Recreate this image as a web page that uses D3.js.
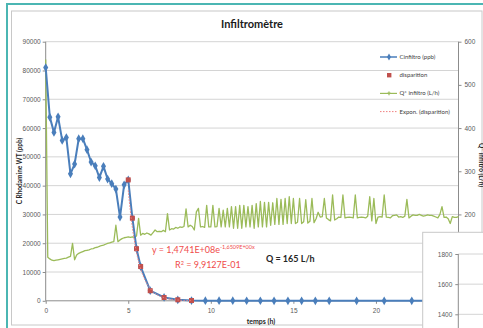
<!DOCTYPE html>
<html>
<head>
<meta charset="utf-8">
<script src="https://cdn.jsdelivr.net/npm/d3@7"></script>
<style>
  html, body { margin: 0; padding: 0; background: #fff; }
  svg { display: block; font-family: Lato, "Open Sans", sans-serif; }
  .tick text { fill: #595959; font-size: 6.5px; }
</style>
</head>
<body>
<div id="chart"></div>
<script>
// Cinfiltro (ppb) - time in hours
const cTimes = [0, 0.25, 0.5, 0.75, 1, 1.25, 1.5, 1.75, 2, 2.25, 2.5, 2.75, 3, 3.25, 3.5, 3.75, 4, 4.25, 4.5, 4.75,
  5, 5.25, 5.5, 5.75, 6.33, 7.17, 8, 8.83, 9.67, 10.5, 11.33, 12.17, 13, 13.83, 14.67, 15.5, 16.33, 17.17,
  18.83, 20.5, 22.17, 23.83];
const cValues = [81000, 63800, 58500, 63900, 55700, 56700, 44100, 47500, 56300, 56300, 52500, 48200, 46900, 42800,
  46700, 42300, 40700, 38800, 29100, 40300, 42000, 28700, 18100, 11900, 3500, 1150, 350, 100, 60, 40, 30, 20,
  20, 10, 10, 10, 10, 10, 0, 0, 0, 0];

// disparition points
const dTimes = [5, 5.25, 5.5, 5.75, 6.33, 7.17, 8, 8.83];
const dValues = [42000, 28700, 18100, 11900, 3500, 1150, 350, 100];

// exponential trendline shown on chart: y = 1,4741E+08 e^(-1,6509 x)
const expA = 1.4741e8;
const expB = -1.6509;

// Q* infiltro (L/h), one reading every 7.5 min
const qStep = 0.125;
const qValues = [559, 101, 97, 94, 93, 94, 95, 96, 97, 98, 99, 101, 103, 133, 95, 106,
  110, 112, 114, 116, 117, 118, 120, 121, 123, 124, 126, 128, 129, 131, 133, 134,
  136, 137, 175, 137, 141, 144, 146, 147, 148, 147, 148, 147, 150, 191, 152, 156,
  154, 157, 155, 152, 158, 164, 160, 161, 160, 163, 160, 202, 164, 167, 166, 170,
  168, 171, 170, 172, 213, 171, 175, 172, 164, 206, 214, 171, 172, 170, 221, 171,
  171, 221, 171, 172, 214, 171, 210, 171, 214, 171, 218, 168, 218, 168, 221, 168,
  221, 171, 218, 171, 221, 168, 225, 171, 230, 171, 228, 171, 228, 175, 227, 177,
  237, 177, 235, 177, 237, 179, 241, 179, 237, 179, 182, 237, 179, 183, 234, 180,
  184, 237, 181, 190, 205, 194, 195, 237, 192, 188, 185, 245, 187, 190, 194, 193,
  245, 192, 193, 194, 193, 192, 245, 192, 193, 194, 193, 192, 196, 241, 185, 237,
  179, 194, 195, 194, 245, 194, 193, 192, 197, 198, 199, 194, 195, 193, 196, 235,
  192, 196, 199, 198, 198, 200, 198, 196, 197, 199, 198, 198, 196, 194, 192, 200,
  218, 193, 194, 190, 179, 195, 193, 193, 195];

const xTicks = [0, 5, 10, 15, 20, 25];
const leftTicks = [0, 10000, 20000, 30000, 40000, 50000, 60000, 70000, 80000, 90000];
const rightTicks = [0, 100, 200, 300, 400, 500, 600];
const insetTicks = [1400, 1600, 1800];

const legendItems = ['Cinfiltro (ppb)', 'disparition', 'Q* infiltro (L/h)', 'Expon. (disparition)'];

const W = 483, H = 328;
const plot = { left: 45.7, right: 458.5, top: 41.7, bottom: 300.8 };
const blue = '#4a7ebb', red = '#c0504d', green = '#9bbb59', pink = '#f08080';

const svg = d3.select('#chart').append('svg')
  .attr('width', W)
  .attr('height', H);

svg.append('rect').attr('width', W).attr('height', H).attr('fill', '#fff');

// outer frames
svg.append('path')
  .attr('d', 'M7,' + (H + 2) + 'V4H' + (W + 2))
  .attr('fill', 'none').attr('stroke', '#4bb6b3').attr('stroke-width', 2);
svg.append('rect')
  .attr('x', 11.5).attr('y', 11).attr('width', 470.5).attr('height', 314)
  .attr('fill', '#fff').attr('stroke', '#c8c8c8').attr('stroke-width', 1);

const x = d3.scaleLinear().domain([0, 25]).range([plot.left, plot.right]);
const yL = d3.scaleLinear().domain([0, 90000]).range([plot.bottom, plot.top]);
const yR = d3.scaleLinear().domain([0, 600]).range([plot.bottom, plot.top]);

// gridlines
svg.append('g')
  .selectAll('line')
  .data(leftTicks.slice(1))
  .join('line')
  .attr('x1', plot.left).attr('x2', plot.right)
  .attr('y1', d => yL(d)).attr('y2', d => yL(d))
  .attr('stroke', '#d4d4d4').attr('stroke-width', 1);

// axes
const axisL = svg.append('g')
  .attr('transform', 'translate(' + plot.left + ',0)')
  .call(d3.axisLeft(yL).tickValues(leftTicks).tickFormat(d3.format('d')).tickSize(3).tickPadding(2));
const axisR = svg.append('g')
  .attr('transform', 'translate(' + plot.right + ',0)')
  .call(d3.axisRight(yR).tickValues(rightTicks).tickSize(3).tickPadding(3));
const axisB = svg.append('g')
  .attr('transform', 'translate(0,' + plot.bottom + ')')
  .call(d3.axisBottom(x).tickValues(xTicks).tickSize(3).tickPadding(5));
[axisL, axisR, axisB].forEach(g => {
  g.select('.domain').attr('stroke', '#8c8c8c');
  g.selectAll('.tick line').attr('stroke', '#8c8c8c');
});
axisL.select('.domain').attr('d', 'M0,' + plot.bottom + 'V' + plot.top);
axisR.select('.domain').attr('d', 'M0,' + plot.bottom + 'V' + plot.top);
axisB.select('.domain').attr('d', 'M' + plot.left + ',0H' + plot.right);

// Q* infiltro line
const qData = qValues.map((v, i) => ({ t: i * qStep, v: v }));
svg.append('path')
  .datum(qData)
  .attr('fill', 'none')
  .attr('stroke', green)
  .attr('stroke-width', 1.3)
  .attr('stroke-linejoin', 'round')
  .attr('d', d3.line().x(d => x(d.t)).y(d => yR(d.v)));

// Cinfiltro line + diamonds
const cData = cTimes.map((t, i) => ({ t: t, v: cValues[i] }));
svg.append('path')
  .datum(cData)
  .attr('fill', 'none')
  .attr('stroke', blue)
  .attr('stroke-width', 2)
  .attr('stroke-linejoin', 'round')
  .attr('d', d3.line().x(d => x(d.t)).y(d => yL(d.v)));
svg.append('g')
  .selectAll('path')
  .data(cData)
  .join('path')
  .attr('transform', d => 'translate(' + x(d.t) + ',' + yL(d.v) + ')')
  .attr('d', d3.symbol(d3.symbolDiamond, 22))
  .attr('fill', blue);

// disparition squares
const dData = dTimes.map((t, i) => ({ t: t, v: dValues[i] }));
svg.append('g')
  .selectAll('rect')
  .data(dData)
  .join('rect')
  .attr('x', d => x(d.t) - 2.5).attr('y', d => yL(d.v) - 2.5)
  .attr('width', 5).attr('height', 5)
  .attr('fill', red);

// exponential trendline, sampled from the displayed equation
const tr = d3.range(dTimes[0], dTimes[dTimes.length - 1], 0.05).concat([dTimes[dTimes.length - 1]]);
svg.append('path')
  .datum(tr)
  .attr('fill', 'none')
  .attr('stroke', pink)
  .attr('stroke-width', 1)
  .attr('stroke-dasharray', '1.5,1.5')
  .attr('d', d3.line().x(t => x(t)).y(t => yL(Math.min(90000, expA * Math.exp(expB * t)))));

// title and axis titles
svg.append('text')
  .attr('x', 252).attr('y', 28)
  .attr('text-anchor', 'middle')
  .style('font-size', '11px').style('font-weight', 'bold').attr('fill', '#1a1a1a')
  .text('Infiltromètre');
svg.append('text')
  .attr('transform', 'translate(22,171) rotate(-90)')
  .attr('text-anchor', 'middle')
  .style('font-size', '6.5px').style('font-weight', 'bold').attr('fill', '#262626')
  .text('C Rhodamine WT (ppb)');
svg.append('text')
  .attr('x', 261).attr('y', 324)
  .attr('text-anchor', 'middle')
  .style('font-size', '7px').style('font-weight', 'bold').attr('fill', '#262626')
  .text('temps (h)');
svg.append('text')
  .attr('transform', 'translate(479,165) rotate(90)')
  .attr('text-anchor', 'middle')
  .style('font-size', '6.5px').style('font-weight', 'bold').attr('fill', '#262626')
  .text('Q* infiltro (L/h)');

// trendline equation
const eq = svg.append('text')
  .attr('x', 152).attr('y', 253)
  .attr('fill', '#f04b4b')
  .style('font-size', '9px');
eq.append('tspan').text('y = 1,4741E+08e');
eq.append('tspan').attr('dy', -4).style('font-size', '5.5px').text('-1,6509E+00x');
const r2 = svg.append('text')
  .attr('x', 175).attr('y', 268)
  .attr('fill', '#f04b4b')
  .style('font-size', '9px');
r2.append('tspan').text('R');
r2.append('tspan').attr('dy', -3).style('font-size', '5.5px').text('2');
r2.append('tspan').attr('dy', 3).text(' = 9,9127E-01');

svg.append('text')
  .attr('x', 266).attr('y', 262)
  .style('font-size', '9px').style('font-weight', 'bold').attr('fill', '#262626')
  .text('Q = 165 L/h');

// legend
const legend = svg.append('g').attr('transform', 'translate(380,57)');
legendItems.forEach((name, i) => {
  const g = legend.append('g').attr('transform', 'translate(0,' + (i * 18.2) + ')');
  if (i === 0) {
    g.append('line').attr('x1', 0).attr('x2', 17).attr('stroke', blue).attr('stroke-width', 1.5);
    g.append('path').attr('transform', 'translate(9,0)').attr('d', d3.symbol(d3.symbolDiamond, 14)).attr('fill', blue);
  } else if (i === 1) {
    g.append('rect').attr('x', 7).attr('y', -2.2).attr('width', 4.4).attr('height', 4.4).attr('fill', red);
  } else if (i === 2) {
    g.append('line').attr('x1', 0).attr('x2', 17).attr('stroke', green).attr('stroke-width', 1.2);
    g.append('path').attr('transform', 'translate(9,0)').attr('d', d3.symbol(d3.symbolCross, 8)).attr('fill', green);
  } else {
    g.append('line').attr('x1', 0).attr('x2', 17).attr('stroke', pink).attr('stroke-width', 1).attr('stroke-dasharray', '1.5,1.5');
  }
  g.append('text')
    .attr('x', 19.5).attr('y', 2)
    .style('font-size', '6px').attr('fill', '#404040')
    .text(name);
});

// second chart overlapping the corner
const inset = svg.append('g');
inset.append('rect')
  .attr('x', 422.7).attr('y', 232.3).attr('width', 80).attr('height', 120)
  .attr('fill', '#fff').attr('stroke', '#c8c8c8').attr('stroke-width', 1);
const yI = d3.scaleLinear().domain([1400, 1800]).range([314.3, 254]);
inset.append('g')
  .selectAll('line')
  .data(insetTicks)
  .join('line')
  .attr('x1', 458.3).attr('x2', W + 2)
  .attr('y1', d => yI(d)).attr('y2', d => yI(d))
  .attr('stroke', '#d4d4d4');
const axisI = inset.append('g')
  .attr('transform', 'translate(458.3,0)')
  .call(d3.axisLeft(yI).tickValues(insetTicks).tickSize(3).tickPadding(3).tickFormat(d3.format('d')));
axisI.select('.domain').attr('d', 'M0,254V' + (H + 2)).attr('stroke', '#8c8c8c');
axisI.selectAll('.tick line').attr('stroke', '#8c8c8c');
</script>
</body>
</html>
